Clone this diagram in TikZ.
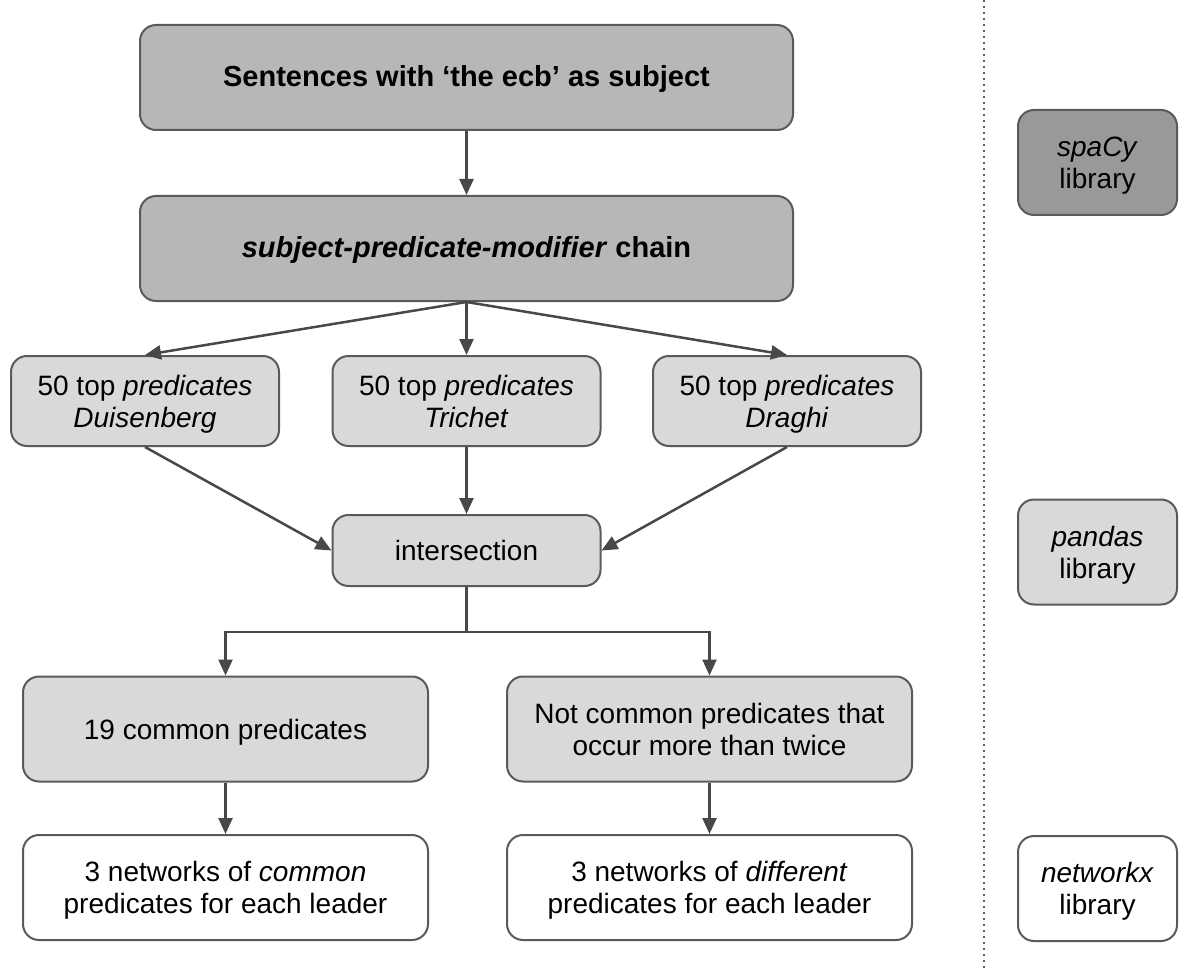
\documentclass[tikz,border=0pt]{standalone}
\usepackage{fontspec}
\setmainfont{Liberation Sans}
\usetikzlibrary{arrows.meta}
\definecolor{boxline}{HTML}{5A5A5A}
\definecolor{arrowcol}{HTML}{484848}
\definecolor{darkfill}{HTML}{B7B7B7}
\definecolor{darkerfill}{HTML}{999999}
\definecolor{lightfill}{HTML}{D9D9D9}
\definecolor{dotcol}{HTML}{606060}
\begin{document}
\begin{tikzpicture}[x=1pt,y=-1pt,
  box/.style={draw=boxline, line width=2pt, rounded corners=16pt, inner sep=0pt,
    align=center, font=\fontsize{28}{32}\selectfont, text height=20pt, text depth=0pt},
  twolines/.style={text height=52pt, text depth=0pt},
  bigbox/.style={box, fill=darkfill, minimum width=653pt, minimum height=105pt,
    font=\fontsize{29}{33}\selectfont\bfseries, text height=19pt},
  predbox/.style={box, fill=lightfill, minimum width=268pt, minimum height=90pt},
  wide/.style={box, minimum width=405pt, minimum height=105pt},
  libbox/.style={box, minimum width=159pt, minimum height=105pt},
  flow/.style={draw=arrowcol, line width=2.5pt, -{Triangle[length=16pt,width=14pt]}}
]
\useasboundingbox (0,0) rectangle (1179,979);

% main pipeline
\node[bigbox] (sent) at (466.5,77.5) {Sentences with ‘the ecb’ as subject};
\node[bigbox] (chain) at (466.5,248.5) {\textit{subject-predicate-modifier} chain};

\node[predbox, twolines] (duis) at (145,401) {50 top \textit{predicates}\\\textit{Duisenberg}};
\node[predbox, twolines] (tric) at (466.5,401) {50 top \textit{predicates}\\\textit{Trichet}};
\node[predbox, twolines] (drag) at (787,401) {50 top \textit{predicates}\\\textit{Draghi}};

\node[predbox, minimum height=71pt] (inter) at (466.5,550.5) {intersection};

\node[wide, fill=lightfill] (common) at (225.5,729) {19 common predicates};
\node[wide, fill=lightfill, twolines] (notcommon) at (709.5,729) {Not common predicates that\\occur more than twice};

\node[wide, fill=white, twolines] (netc) at (225.5,887.5) {3 networks of \textit{common}\\predicates for each leader};
\node[wide, fill=white, twolines] (netd) at (709.5,887.5) {3 networks of \textit{different}\\predicates for each leader};

% libraries column
\draw[dotcol, line width=2pt, dash pattern=on 2pt off 4pt] (984,0) coordinate (sepTop) -- (984,968) coordinate (sepBot);
\node[libbox, fill=darkerfill, twolines] (spacy) at (1097.5,162.5) {\textit{spaCy}\\library};
\node[libbox, fill=lightfill, twolines] (pandas) at (1097.5,552) {\textit{pandas}\\library};
\node[libbox, fill=white, twolines] (networkx) at (1097.5,888.5) {\textit{networkx}\\library};

% connectors
\draw[flow] (sent.south) -- (chain.north);
\draw[flow] (chain.south) -- (duis.north);
\draw[flow] (chain.south) -- (tric.north);
\draw[flow] (chain.south) -- (drag.north);
\draw[flow] (duis.south) -- (inter.west);
\draw[flow] (tric.south) -- (inter.north);
\draw[flow] (drag.south) -- (inter.east);
\draw[flow, rounded corners=0pt] (inter.south) -- ++(0,45) -| (common.north);
\draw[flow, rounded corners=0pt] (inter.south) -- ++(0,45) -| (notcommon.north);
\draw[flow] (common.south) -- (netc.north);
\draw[flow] (notcommon.south) -- (netd.north);
\end{tikzpicture}
\end{document}
